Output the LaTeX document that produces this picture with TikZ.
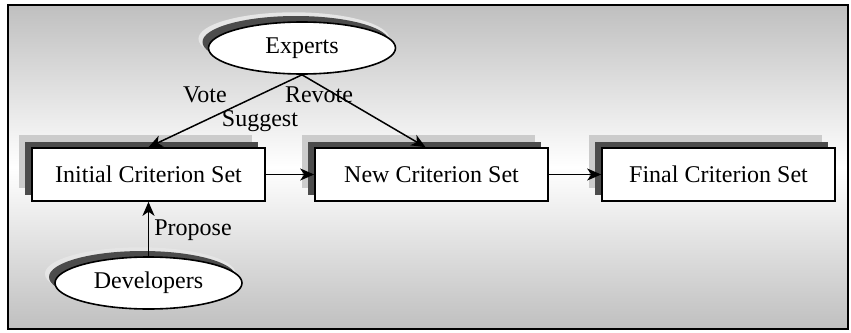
\documentclass[tikz,border=0pt]{standalone}
\usepackage{fontspec}
\setmainfont{Liberation Serif}
\usetikzlibrary{arrows.meta,shapes.geometric,shadows}

\definecolor{bgedge}{gray}{0.75}
\definecolor{shadowlight}{gray}{0.80}
\definecolor{shadowdark}{gray}{0.30}
\definecolor{hazelight}{gray}{0.90}

\tikzset{
  every node/.style={font=\fontsize{24}{28}\selectfont},
  setbox/.style={draw=black, line width=1.6pt, fill=white, minimum width=233pt,
    minimum height=53pt, inner sep=0pt,
    general shadow={fill=shadowlight, shadow xshift=-13pt, shadow yshift=13pt},
    general shadow={fill=shadowdark, shadow xshift=-7pt, shadow yshift=6pt}},
  actor/.style={ellipse, draw=black, line width=1.6pt, fill=white,
    minimum width=187pt, minimum height=52pt, inner sep=0pt,
    general shadow={fill=hazelight, shadow xshift=-8pt, shadow yshift=9pt, shadow scale=1.02},
    general shadow={fill=shadowdark, shadow xshift=-6pt, shadow yshift=6pt}},
  flow/.style={-{Stealth[length=14pt,width=12pt,inset=4pt]}, line width=1.5pt},
  tag/.style={inner sep=0pt}
}

\begin{document}
\begin{tikzpicture}[x=1pt,y=-1pt]
  \useasboundingbox (0,0) rectangle (851,332);
  % background panel with a vertical grey-white-grey gradient
  \shade[top color=bgedge, bottom color=bgedge, middle color=white]
    (8,5) rectangle (848,329);
  \draw[line width=1.6pt] (8,5) rectangle (848,329);

  % criterion sets
  \node[setbox] (ic) at (148.5,174.5) {Initial Criterion Set};
  \node[setbox] (nc) at (431.5,174.5) {New Criterion Set};
  \node[setbox] (fc) at (718.5,174.5) {Final Criterion Set};

  % participants
  \node[actor] (ex) at (302,48) {Experts};
  \node[actor] (dv) at (148.5,283) {Developers};

  % connectors
  \draw[flow] (ex.south) -- (ic.north);
  \draw[flow] (ex.south) -- ([xshift=-6pt]nc.north);
  \draw[flow] (dv.north) -- (ic.south);
  \draw[flow] (ic.east) -- (nc.west);
  \draw[flow] (nc.east) -- (fc.west);

  % labels
  \node[tag] (vote) at (205,95) {Vote};
  \node[tag] (revote) at (319,95) {Revote};
  \node[tag] (suggest) at (260,121) {Suggest};
  \node[tag] (propose) at (193,230) {Propose};
\end{tikzpicture}
\end{document}
